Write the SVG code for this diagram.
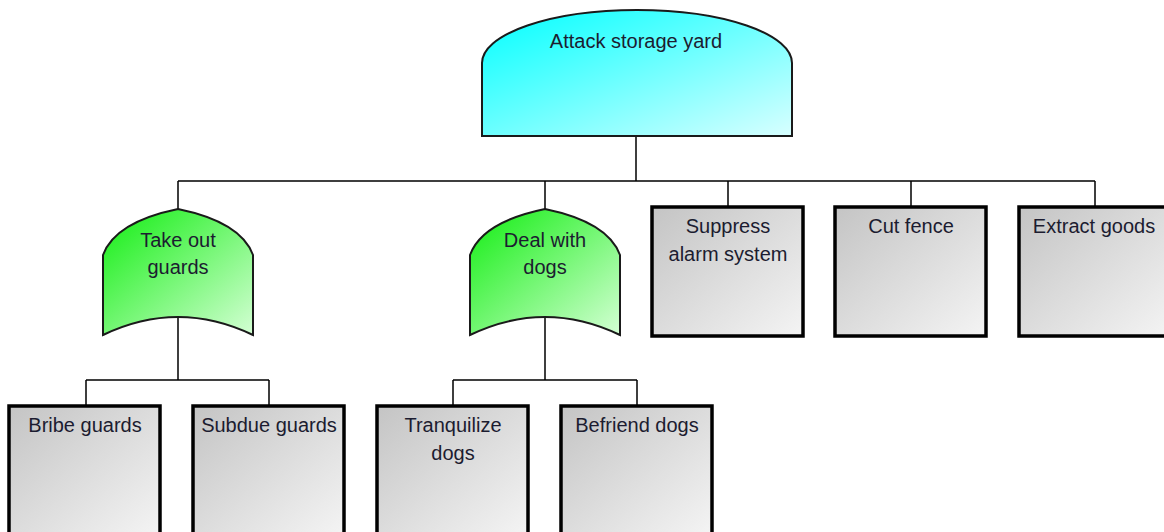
<svg xmlns="http://www.w3.org/2000/svg" width="1164" height="532" viewBox="0 0 1164 532">
<defs>
<linearGradient id="gCyan" x1="0" y1="0" x2="1" y2="1"><stop offset="0" stop-color="#00ffff"/><stop offset="1" stop-color="#d8ffff"/></linearGradient>
<linearGradient id="gGreen" x1="0" y1="0" x2="1" y2="1"><stop offset="0" stop-color="#11ee11"/><stop offset="1" stop-color="#d4ffd4"/></linearGradient>
<linearGradient id="gGrey" x1="0" y1="0" x2="1" y2="1"><stop offset="0" stop-color="#c4c4c4"/><stop offset="1" stop-color="#f4f4f4"/></linearGradient>
<style>
.t{font-family:"Liberation Sans",Arial,sans-serif;font-size:20px;fill:#1c1c30;text-anchor:middle}
.gate{stroke:#1a1a1a;stroke-width:2}
.box{fill:url(#gGrey);stroke:#000;stroke-width:3.5}
.c{stroke:#000;stroke-width:1.5;fill:none}
</style>
</defs>
<rect width="1164" height="532" fill="#fff"/>
<g id="connectors">
<path class="c" d="M636,136V181M178,181H1095M178,181V209M545,181V209M728,181V207M911,181V207M1095,181V207"/>
<path class="c" d="M178,317V380M86,380H269M86,380V406M269,380V406"/>
<path class="c" d="M545,317V380M453,380H637M453,380V406M637,380V406"/>
</g>
<g id="attack">
<path class="gate" fill="url(#gCyan)" d="M482,136V63A155,53 0 0 1 792,63V136Z"/>
<text class="t" x="636" y="48">Attack storage yard</text>
</g>
<g id="takeout">
<path class="gate" fill="url(#gGreen)" d="M103,335V255Q115,222 178,209Q241,222 253,255V335Q178,299 103,335Z"/>
<text class="t" x="178" y="247">Take out</text>
<text class="t" x="178" y="274">guards</text>
</g>
<g id="dealdogs">
<path class="gate" fill="url(#gGreen)" d="M470,335V255Q482,222 545,209Q608,222 620,255V335Q545,299 470,335Z"/>
<text class="t" x="545" y="247">Deal with</text>
<text class="t" x="545" y="274">dogs</text>
</g>
<g id="suppress">
<rect class="box" x="652" y="207" width="151" height="129"/>
<text class="t" x="728" y="233">Suppress</text>
<text class="t" x="728" y="261">alarm system</text>
</g>
<g id="cutfence">
<rect class="box" x="835" y="207" width="151" height="129"/>
<text class="t" x="911" y="233">Cut fence</text>
</g>
<g id="extract">
<rect class="box" x="1019" y="207" width="151" height="129"/>
<text class="t" x="1094" y="233">Extract goods</text>
</g>
<g id="bribe">
<rect class="box" x="9" y="406" width="151" height="129"/>
<text class="t" x="85" y="432">Bribe guards</text>
</g>
<g id="subdue">
<rect class="box" x="193" y="406" width="151" height="129"/>
<text class="t" x="269" y="432">Subdue guards</text>
</g>
<g id="tranq">
<rect class="box" x="377" y="406" width="151" height="129"/>
<text class="t" x="453" y="432">Tranquilize</text>
<text class="t" x="453" y="460">dogs</text>
</g>
<g id="befriend">
<rect class="box" x="561" y="406" width="151" height="129"/>
<text class="t" x="637" y="432">Befriend dogs</text>
</g>
</svg>
